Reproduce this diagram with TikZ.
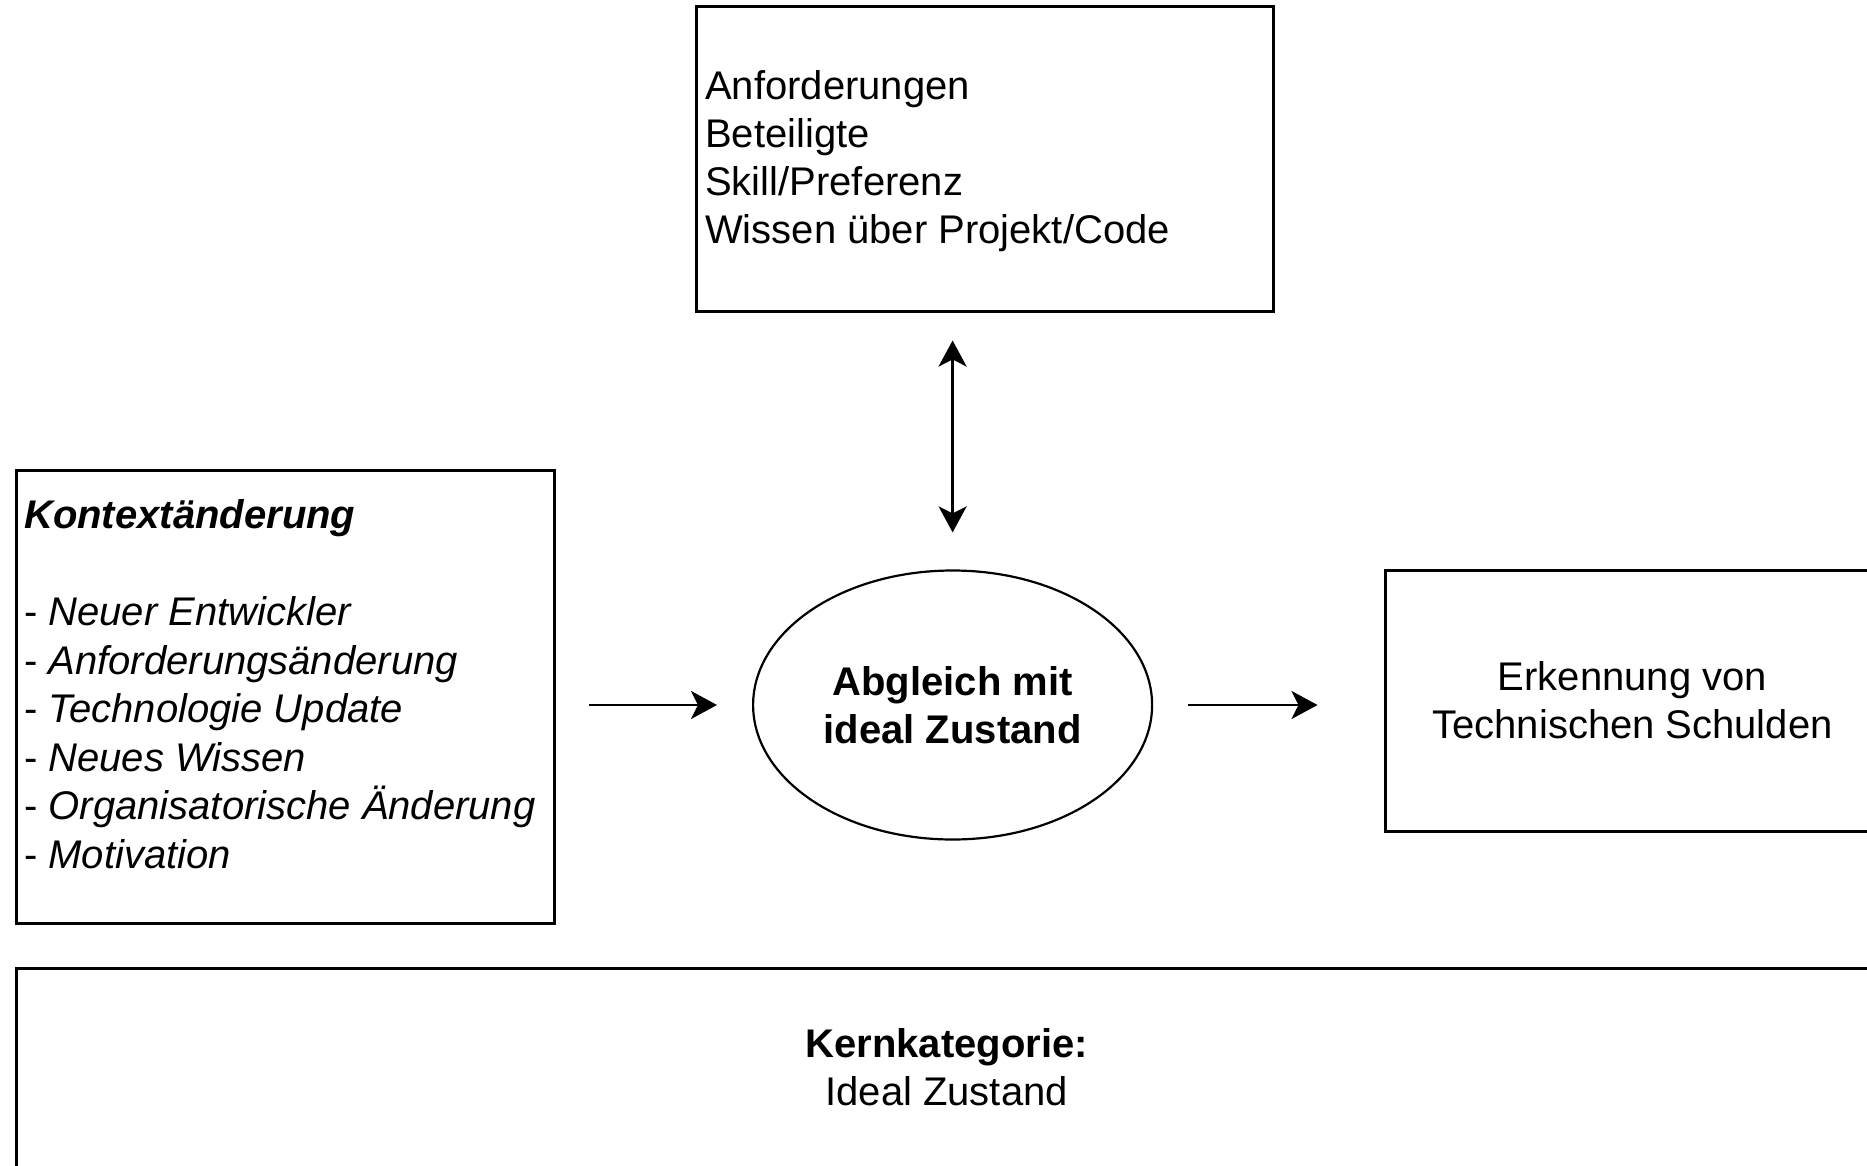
\documentclass[tikz,border=0pt]{standalone}
\usepackage{fontspec}
\setmainfont{Liberation Sans}
\usetikzlibrary{arrows.meta,shapes.geometric}
\begin{document}
\begin{tikzpicture}[x=1pt,y=-1pt,
  box/.style={draw=black, line width=3pt, rectangle, inner sep=0pt},
  txt/.style={font=\fontsize{40}{48}\selectfont, inner sep=0pt},
  ctip/.tip={Stealth[length=26pt,width=28pt,inset=7pt]},
  conn/.style={line width=2.6pt, draw=black},
]
\useasboundingbox (0,0) rectangle (1867,1166);
\clip (0,0) rectangle (1867,1166);

% Influencing factors (top)
\node[box, minimum width=577pt, minimum height=304pt] (req) at (985.3,159) {};
\node[txt, align=left, anchor=west] (reqtxt) at (705,161)
  {Anforderungen\\Beteiligte\\Skill/Preferenz\\Wissen über Projekt/Code};

% Context changes (left)
\node[box, minimum width=538pt, minimum height=453pt] (ctx) at (285.9,696.5) {};
\node[txt, align=left, anchor=west, font=\fontsize{40}{48.6}\selectfont] (ctxtxt) at (24,684)
  {\textbf{\textit{Kontextänderung}}\\[48.6pt]
   - \textit{Neuer Entwickler}\\
   - \textit{Anforderungsänderung}\\
   - \textit{Technologie Update}\\
   - \textit{Neues Wissen}\\
   - \textit{Organisatorische Änderung}\\
   - \textit{Motivation}};

% Comparison (centre)
\node[draw=black, ellipse, line width=2.2pt, minimum width=399pt, minimum height=269pt,
      txt, align=center, font=\fontsize{40}{48}\selectfont\bfseries] (cmp) at (952.6,705)
  {Abgleich mit\\ideal Zustand};

% Result (right)
\node[box, txt, align=center, minimum width=495pt, minimum height=261pt] (tech) at (1632.5,700.5)
  {Erkennung von\\Technischen Schulden};

% Core category (bottom)
\node[box, txt, align=center, minimum width=1860pt, minimum height=199pt] (core) at (946.6,1067.5)
  {\textbf{Kernkategorie:}\\Ideal Zustand};

% Connectors
\draw[conn, ctip-ctip, shorten <=28pt, shorten >=37pt] (cmp.north |- req.south) -- (cmp.north);
\draw[conn, -ctip, shorten <=33pt, shorten >=35pt] (ctx.east |- cmp.west) -- (cmp.west);
\draw[conn, -ctip, shorten <=35pt, shorten >=66pt] (cmp.east) -- (cmp.east -| tech.west);
\end{tikzpicture}
\end{document}
